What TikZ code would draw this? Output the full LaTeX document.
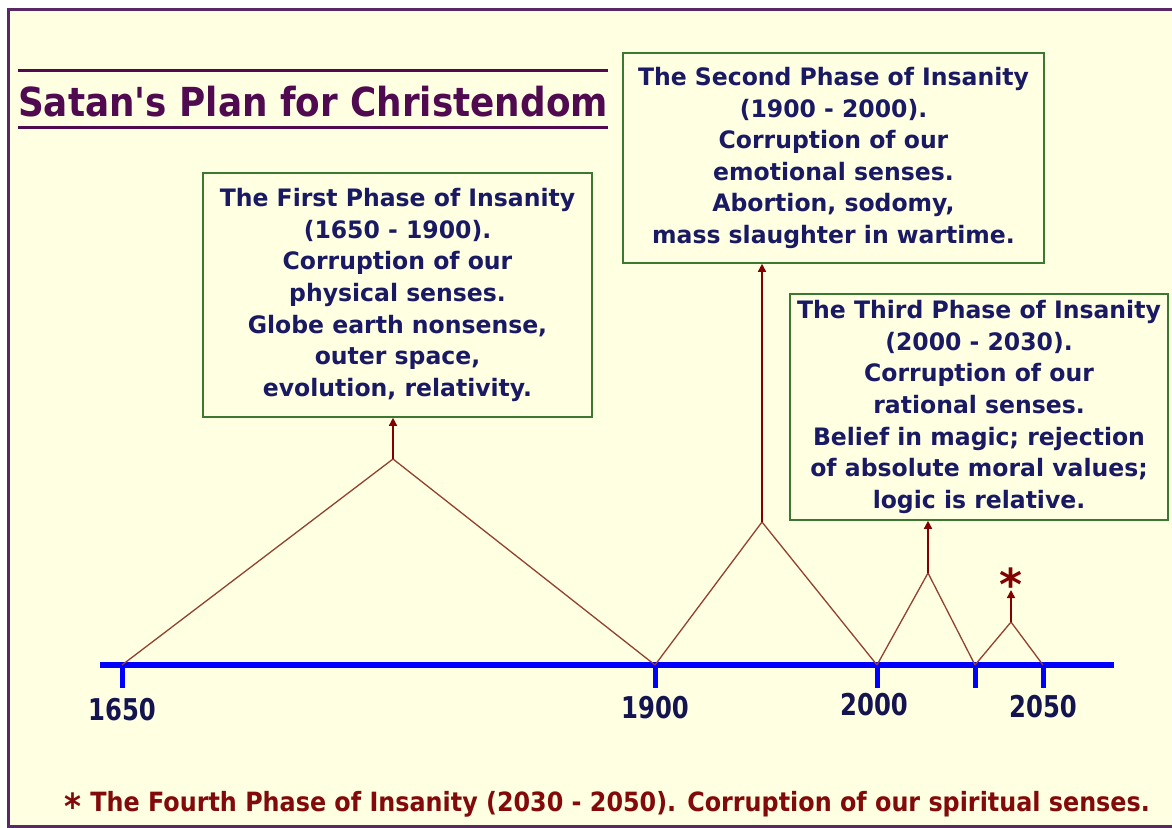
\documentclass[tikz,border=0pt]{standalone}
\usepackage{fontspec}
\setmainfont{DejaVu Sans}
\newfontfamily\boxfont{DejaVu Sans}[FakeStretch=0.98]
\newfontfamily\titlefont{DejaVu Sans}[FakeStretch=0.895]
\newfontfamily\narrowfont{DejaVu Sans}[FakeStretch=0.81]
\newfontfamily\notefont{DejaVu Sans}[FakeStretch=0.9]
\usetikzlibrary{arrows.meta}
\definecolor{bgcream}{RGB}{255,255,226}
\definecolor{framepurple}{RGB}{90,40,100}
\definecolor{titlepurple}{RGB}{80,10,80}
\definecolor{boxgreen}{RGB}{60,120,50}
\definecolor{boxnavy}{RGB}{25,25,100}
\definecolor{axisblue}{RGB}{0,0,255}
\definecolor{labelnavy}{RGB}{20,20,80}
\definecolor{peakbrown}{RGB}{145,65,45}
\definecolor{arrowred}{RGB}{130,0,0}
\definecolor{notered}{RGB}{130,10,10}
\tikzset{
  phasebox/.style={draw=boxgreen, line width=1.6pt, fill=bgcream, inner sep=0pt,
    align=center, text=boxnavy, font=\boxfont\bfseries\fontsize{24}{31.6}\selectfont},
  yearlabel/.style={text=labelnavy, anchor=base, inner sep=0pt,
    font=\narrowfont\bfseries\fontsize{30}{30}\selectfont},
  axisline/.style={axisblue, line width=6pt},
  tickline/.style={axisblue, line width=5pt},
  peakline/.style={peakbrown, line width=1.3pt, line join=miter},
  riser/.style={arrowred, line width=1.5pt, -{Triangle[length=8pt,width=8pt]}},
  titlerule/.style={titlepurple, line width=3pt}
}
\begin{document}
\begin{tikzpicture}[x=1pt,y=-1pt]
\useasboundingbox (0,0) rectangle (1172,827);
\fill[white] (0,0) rectangle (1172,827);
\fill[bgcream] (8,9) rectangle (1180,826);
\draw[framepurple, line width=3pt] (1180,9) -- (8,9) -- (8,826) -- (1180,826);

% title
\draw[titlerule] (18,70) -- (608,70);
\draw[titlerule] (18,127) -- (608,127);
\node[anchor=base west, inner sep=0pt, text=titlepurple,
  font=\titlefont\bfseries\fontsize{40}{40}\selectfont] (title) at (18,116) {Satan's Plan for Christendom};

% boxes
\node[phasebox, minimum width=389pt, minimum height=244pt] (b1) at (397.5,295)
  {The First Phase of Insanity\\(1650 - 1900).\\Corruption of our\\physical senses.\\Globe earth nonsense,\\outer space,\\evolution, relativity.};
\node[phasebox, minimum width=421pt, minimum height=210pt] (b2) at (833.5,158)
  {The Second Phase of Insanity\\(1900 - 2000).\\Corruption of our\\emotional senses.\\Abortion, sodomy,\\mass slaughter in wartime.};
\node[phasebox, minimum width=378pt, minimum height=226pt] (b3) at (979,407)
  {The Third Phase of Insanity\\(2000 - 2030).\\Corruption of our\\rational senses.\\Belief in magic; rejection\\of absolute moral values;\\logic is relative.};

% axis
\coordinate (axL) at (100,665);
\coordinate (axR) at (1114,665);
\draw[axisline] (axL) -- (axR);
\coordinate (t1650) at (122,665);
\coordinate (t1900) at (655,665);
\coordinate (t2000) at (877,665);
\coordinate (t2030) at (975,665);
\coordinate (t2050) at (1043,665);
\foreach \t in {t1650,t1900,t2000,t2030,t2050}
  \draw[tickline] (\t) -- ++(0,23);

\node[yearlabel] (l1650) at (122,720) {1650};
\node[yearlabel] (l1900) at (655,718) {1900};
\node[yearlabel] (l2000) at (874,715) {2000};
\node[yearlabel] (l2050) at (1043,717) {2050};

% peaks
\coordinate (a1) at (393,459);
\coordinate (a2) at (762,522);
\coordinate (a3) at (928,573);
\coordinate (a4) at (1011,622);
\draw[peakline] (t1650) -- (a1) -- (t1900);
\draw[peakline] (t1900) -- (a2) -- (t2000);
\draw[peakline] (t2000) -- (a3) -- (t2030);
\draw[peakline] (t2030) -- (a4) -- (t2050);

% risers
\draw[riser] (a1) -- (a1 |- b1.south);
\draw[riser] (a2) -- (a2 |- b2.south);
\draw[riser] (a3) -- (a3 |- b3.south);
\coordinate (a4tip) at (1011,590);
\draw[riser] (a4) -- (a4tip);
\node[anchor=base, inner sep=0pt, text=arrowred,
  font=\bfseries\fontsize{44}{44}\selectfont] (star) at (1011,600) {*};

% footnote
\node[anchor=base west, inner sep=0pt, text=notered,
  font=\notefont\bfseries\fontsize{26.5}{26.5}\selectfont] (note) at (64,811)
  {\raisebox{-0.32em}{\fontsize{36}{36}\selectfont*}\hspace{0.35em}The Fourth Phase of Insanity (2030 - 2050). Corruption of our spiritual senses.};
\end{tikzpicture}
\end{document}
